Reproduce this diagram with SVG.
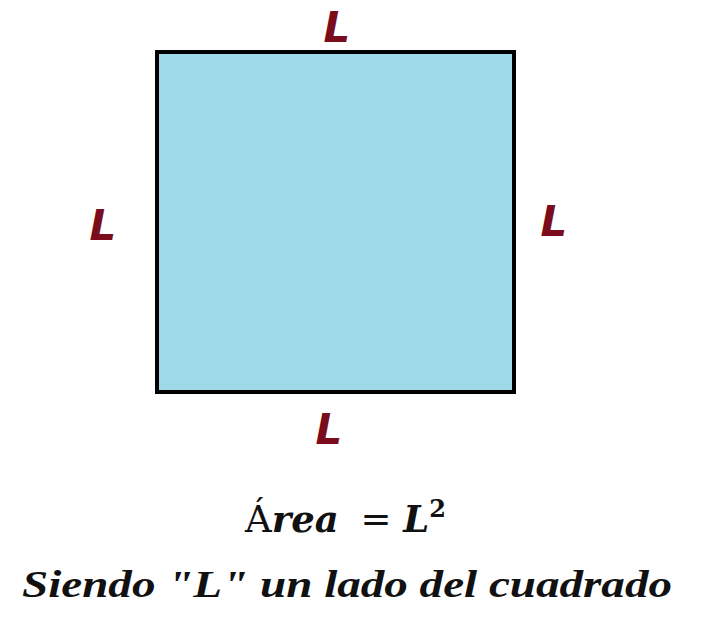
<svg xmlns="http://www.w3.org/2000/svg" width="708" height="630" viewBox="0 0 708 630">
<style>
.lab{font-family:"DejaVu Sans","Liberation Sans",sans-serif;font-weight:bold;font-style:italic;font-size:42px;fill:#7a0c1c;text-anchor:middle}
.math{font-family:"DejaVu Serif","Liberation Serif",serif;font-size:37px;fill:#111}
.cap{font-family:"Liberation Serif","DejaVu Serif",serif;font-weight:bold;font-style:italic;font-size:38px;fill:#111}
</style>
<rect width="708" height="630" fill="#fff"/>
<g id="square"><rect x="157" y="52" width="357" height="340" fill="#9ed9ea" stroke="#000" stroke-width="4"/></g>
<g id="label-top"><text class="lab" x="337" y="42">L</text></g>
<g id="label-left"><text class="lab" x="103" y="240">L</text></g>
<g id="label-right"><text class="lab" x="554" y="236">L</text></g>
<g id="label-bottom"><text class="lab" x="329" y="444">L</text></g>
<g id="formula"><text class="math" x="245" y="532">Á<tspan font-style="italic" font-weight="bold">rea</tspan> <tspan dx="10">=</tspan> <tspan font-style="italic" font-weight="bold">L</tspan><tspan font-size="24" dy="-15" font-weight="bold">2</tspan></text></g>
<g id="caption"><text class="cap" x="22" y="597" textLength="650" lengthAdjust="spacingAndGlyphs">Siendo "L" un lado del cuadrado</text></g>
</svg>
